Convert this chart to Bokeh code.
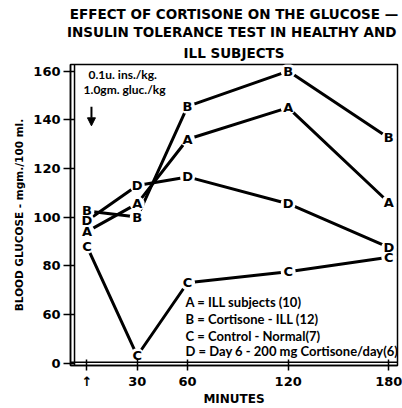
import math
from bokeh.plotting import figure
from bokeh.models import (Range1d, FixedTicker, Label, Span, Arrow, NormalHead,
                          ColumnDataSource, Title)
from bokeh.core.properties import value
from bokeh.embed import file_html
from bokeh.resources import INLINE

# ---- data ----
minutes = [0, 30, 60, 120, 180]
series_A = [94, 105.5, 132, 145, 106]      # ILL subjects (10)
series_B = [102.5, 100, 145.5, 160, 132.5]  # Cortisone - ILL (12)
series_C = [88, 9, 73, 77.5, 83.5]          # Control - Normal (7)
series_D = [98.5, 113, 116.5, 105.5, 87.5]  # Day 6 - 200 mg Cortisone/day (6)
series_names = ["A", "B", "C", "D"]
legend_lines = ["A = ILL subjects (10)", "B = Cortisone - ILL (12)",
                "C = Control - Normal(7)", "D = Day 6 - 200 mg Cortisone/day(6)"]
title_lines = ["EFFECT OF CORTISONE ON THE GLUCOSE —",
               "INSULIN TOLERANCE TEST  IN HEALTHY AND",
               "ILL SUBJECTS"]
y_ticks = [0, 60, 80, 100, 120, 140, 160]
x_ticks = [0, 30, 60, 120, 180]
x_tick_labels = ["↑", "30", "60", "120", "180"]

FONT = "Lato"
HEAVY = "DejaVu Sans"


def ypos(v):
    # broken axis: 0..60 compressed into one 20-unit step
    return v if v >= 60 else 40 + v / 3.0


p = figure(width=402, height=408, output_backend="svg", toolbar_location=None,
           x_range=Range1d(-9.8, 185.2), y_range=Range1d(39.0, 162.7),
           min_border_left=70, min_border_right=5, min_border_top=64,
           min_border_bottom=39)
p.grid.visible = False
p.background_fill_color = "white"
p.border_fill_color = "white"
p.outline_line_color = "black"
p.outline_line_width = 1.5

# title: three centred lines; p.title is outermost, later "above" items farther out
p.title.text = title_lines[0]
t3 = Title(text=title_lines[2])
p.add_layout(t3, "above")
t2 = Title(text=title_lines[1])
p.add_layout(t2, "above")
for t in [p.title, t2, t3]:
    t.align = "center"
    t.text_font = HEAVY
    t.text_font_style = "bold"
    t.text_font_size = "13.5px"
    t.text_color = "black"
    t.standoff = 0
t3.standoff = 7

# y axis title on the left
ytitle = Title(text="BLOOD GLUCOSE - mgm./100 ml.", align="center", offset=29,
               text_font=HEAVY, text_font_style="bold", text_font_size="10.5px",
               text_color="black", standoff=12)
p.add_layout(ytitle, "left")

# axes
p.yaxis.ticker = FixedTicker(ticks=[ypos(t) for t in y_ticks])
p.yaxis.major_label_overrides = {ypos(t): str(t) for t in y_ticks}
p.xaxis.ticker = FixedTicker(ticks=x_ticks)
p.xaxis.major_label_overrides = dict(zip(x_ticks, x_tick_labels))
for ax in (p.xaxis, p.yaxis):
    ax.axis_line_color = "black"
    ax.axis_line_width = 1.5
    ax.major_tick_line_color = "black"
    ax.major_tick_line_width = 1.5
    ax.minor_tick_line_color = None
    ax.major_label_text_font = HEAVY
    ax.major_label_text_font_style = "bold"
    ax.major_label_text_font_size = "13px"
    ax.major_label_text_color = "black"
p.yaxis.major_tick_in = 4
p.yaxis.major_tick_out = 7
p.yaxis.major_label_standoff = 3
p.xaxis.major_tick_in = 6
p.xaxis.major_tick_out = 5
p.xaxis.major_label_standoff = 3
p.xaxis.axis_label = "MINUTES"
p.xaxis.axis_label_text_font = HEAVY
p.xaxis.axis_label_text_font_style = "bold"
p.xaxis.axis_label_text_font_size = "12px"
p.xaxis.axis_label_text_color = "black"
p.xaxis.axis_label_standoff = 0

# double frame lines
p.add_layout(Span(location=-7.4, dimension="height", line_color="black", line_width=1.5))
p.add_layout(Span(location=40.3, dimension="width", line_color="black", line_width=1.5))

all_series = [series_A, series_B, series_C, series_D]
# series lines
for vals in all_series:
    p.line(minutes, [ypos(v) for v in vals], line_color="black", line_width=3)
# white gaps around letters
for vals in all_series:
    p.scatter(minutes, [ypos(v) for v in vals], size=15, marker="circle",
              fill_color="white", line_color=None)
# letters
for name, vals in zip(series_names, all_series):
    src = ColumnDataSource(dict(x=minutes, y=[ypos(v) for v in vals],
                                t=[name] * len(minutes)))
    p.text(x="x", y="y", text="t", source=src, text_align="center",
           text_baseline="middle", text_font=value(HEAVY), text_font_style="bold",
           text_font_size="13px", text_color="black")

# dose annotation
p.add_layout(Label(x=0.95, y=158.5, text="0.1u. ins./kg.", text_baseline="middle",
                   text_font=FONT, text_font_style="bold", text_font_size="12px",
                   text_color="black"))
p.add_layout(Label(x=-2.0, y=152.5, text="1.0gm. gluc./kg", text_baseline="middle",
                   text_font=FONT, text_font_style="bold", text_font_size="12px",
                   text_color="black"))
p.add_layout(Arrow(x_start=2.7, y_start=145.3, x_end=2.7, y_end=137.5,
                   line_width=2, line_color="black",
                   end=NormalHead(size=8, fill_color="black", line_color="black")))

# legend text
for txt, yy in zip(legend_lines, [65.3, 58.3, 51.3, 44.8]):
    p.add_layout(Label(x=58.8, y=yy, text=txt, text_baseline="middle",
                       text_font=FONT, text_font_style="bold", text_font_size="13px",
                       text_color="black"))

open("out.html", "w").write(file_html(p, INLINE))
